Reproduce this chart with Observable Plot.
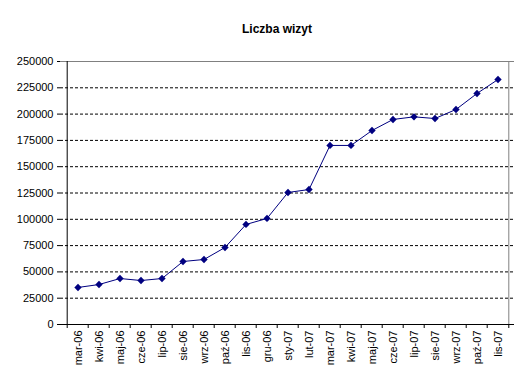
<!DOCTYPE html>
<html>
<head>
<meta charset="utf-8">
<script src="https://cdn.jsdelivr.net/npm/d3@7"></script>
<script src="https://cdn.jsdelivr.net/npm/@observablehq/plot@0.6"></script>
<style>
  body { margin: 0; background: #fff; }
  #wrap { position: relative; width: 527px; height: 383px; font-family: "Liberation Sans", Arial, sans-serif; }
  #title { position: absolute; top: 22px; left: 0; width: 554px; text-align: center; font-size: 12px; font-weight: bold; }
  svg { position: absolute; top: 0; left: 0; }
</style>
</head>
<body>
<div id="wrap"><div id="title">Liczba wizyt</div></div>
<script>
const months = ["mar-06","kwi-06","maj-06","cze-06","lip-06","sie-06","wrz-06","paź-06","lis-06","gru-06","sty-07","lut-07","mar-07","kwi-07","maj-07","cze-07","lip-07","sie-07","wrz-07","paź-07","lis-07"];
const visits = [35200,38000,43700,41800,43700,59900,61800,73200,95100,100800,125500,128300,170200,170200,184400,194900,197400,195800,204400,219600,232900];
const yTicks = [0,25000,50000,75000,100000,125000,150000,175000,200000,225000,250000];
const gridTicks = yTicks.slice(1, -1);

const data = months.map((m, i) => ({month: m, value: visits[i]}));

const W = 527, H = 383, ML = 60, MR = 13, MT = 61, MB = 59;
const step = (W - ML - MR) / months.length;

const chart = Plot.plot({
  width: W, height: H,
  marginLeft: ML, marginRight: MR, marginTop: MT, marginBottom: MB,
  style: {fontFamily: '"Liberation Sans", Arial, sans-serif', fontSize: "11px", color: "#000", background: "transparent"},
  x: {type: "band", domain: months, padding: 0},
  y: {domain: [0, 250000]},
  marks: [
    Plot.ruleY(gridTicks, {stroke: "#000", strokeDasharray: "3,2", strokeWidth: 1}),
    Plot.ruleY([250000], {stroke: "#808080"}),
    Plot.ruleX([months[months.length - 1]], {dx: step / 2, stroke: "#808080"}),
    Plot.axisY({ticks: yTicks, tickFormat: d => String(d), tickSize: 3, tickPadding: 4, label: null, fontSize: 11}),
    Plot.axisX({ticks: months, tickSize: 0, tickPadding: 6, tickRotate: -90, label: null, fontSize: 11}),
    Plot.axisX({ticks: months, text: null, tickSize: 4, dx: -step / 2, label: null}),
    Plot.axisX({ticks: [months[months.length - 1]], text: null, tickSize: 4, dx: step / 2, label: null}),
    Plot.ruleY([0], {stroke: "#000"}),
    Plot.ruleX([months[0]], {dx: -step / 2, stroke: "#000"}),
    Plot.line(data, {x: "month", y: "value", stroke: "#000080", strokeWidth: 1}),
    Plot.dot(data, {x: "month", y: "value", symbol: "diamond2", r: 3.3, fill: "#000080", stroke: "none"})
  ]
});
document.getElementById("wrap").appendChild(chart);
</script>
</body>
</html>
